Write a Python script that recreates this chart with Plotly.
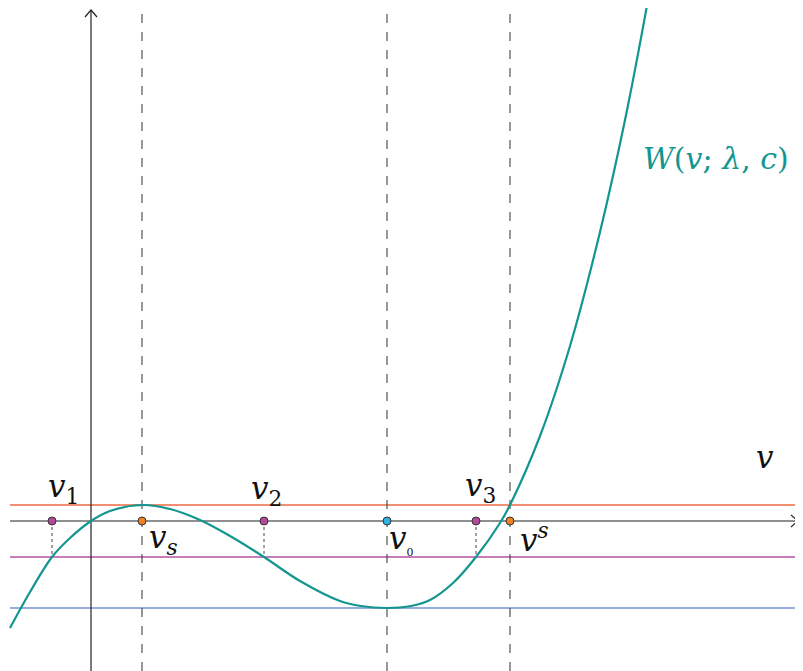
import plotly.graph_objects as go

# ---- data (units: 1 = 100 px of the reference) ----
curve_v = [-0.81, -0.61, -0.39, -0.21, 0.00, 0.19, 0.51, 0.79, 1.09, 1.39, 1.73,
           2.09, 2.49, 2.70, 2.96, 3.20, 3.39, 3.62, 3.85, 4.09, 4.19, 4.49, 4.79, 5.09, 5.34, 5.57, 5.62]
curve_W = [-1.07, -0.71, -0.36, -0.17, 0.00, 0.10, 0.16, 0.12, 0.01, -0.15, -0.36,
           -0.60, -0.80, -0.85, -0.87, -0.85, -0.79, -0.62, -0.36, -0.02, 0.16, 0.85, 1.75, 2.89, 4.01, 5.21, 5.50]

level_top = 0.16      # W(v_s)
level_mid = -0.36     # c level
level_min = -0.87     # W(v_0)

roots_v = [-0.39, 1.73, 3.85]           # v1, v2, v3
crit_v = [0.51, 4.19]                   # v_s, v^s
v0 = 2.96

# page has an 8px body margin: shift ranges so the picture lines up
XMIN, XMAX = -0.83, 7.20
YMIN, YMAX = -1.58, 5.13
LEFT = -0.81
RIGHT = 7.12

teal = "#13968f"
red = "#ec6a42"
mag = "#b452a4"
blue = "#7391cf"
purple_pt = "#b4489a"
orange_pt = "#f58220"
cyan_pt = "#2cb3e6"
dash_col = "#444444"

fig = go.Figure()

# horizontal levels
for lvl, col in [(level_top, red), (level_mid, mag), (level_min, blue)]:
    fig.add_trace(go.Scatter(x=[LEFT, RIGHT], y=[lvl, lvl], mode="lines",
                             line=dict(color=col, width=1.5), hoverinfo="skip"))

# vertical dashed lines
for xv in [crit_v[0], v0, crit_v[1]]:
    fig.add_trace(go.Scatter(x=[xv, xv], y=[-1.50, 5.12], mode="lines",
                             line=dict(color=dash_col, width=1.1, dash="dash"), hoverinfo="skip"))

# dotted drops from roots to c level
for xv in roots_v:
    fig.add_trace(go.Scatter(x=[xv, xv], y=[0, level_mid], mode="lines",
                             line=dict(color=dash_col, width=1, dash="dot"), hoverinfo="skip"))

# axes
fig.add_trace(go.Scatter(x=[LEFT, 7.07], y=[0, 0], mode="lines",
                         line=dict(color="#222222", width=1.2), hoverinfo="skip"))
fig.add_trace(go.Scatter(x=[7.00, 7.07, 7.00], y=[0.06, 0, -0.06], mode="lines",
                         line=dict(color="#222222", width=1.2), hoverinfo="skip"))
fig.add_trace(go.Scatter(x=[0, 0], y=[-1.50, 5.11], mode="lines",
                         line=dict(color="#222222", width=1.2), hoverinfo="skip"))
fig.add_trace(go.Scatter(x=[-0.06, 0, 0.06], y=[5.04, 5.11, 5.04], mode="lines",
                         line=dict(color="#222222", width=1.2), hoverinfo="skip"))

# curve
fig.add_trace(go.Scatter(x=curve_v, y=curve_W, mode="lines", line_shape="spline",
                         line=dict(color=teal, width=2.2), hoverinfo="skip"))

# points
fig.add_trace(go.Scatter(x=roots_v, y=[0, 0, 0], mode="markers",
                         marker=dict(color=purple_pt, size=8, line=dict(color="#333333", width=1))))
fig.add_trace(go.Scatter(x=crit_v, y=[0, 0], mode="markers",
                         marker=dict(color=orange_pt, size=8, line=dict(color="#333333", width=1))))
fig.add_trace(go.Scatter(x=[v0], y=[0], mode="markers",
                         marker=dict(color=cyan_pt, size=8, line=dict(color="#333333", width=1))))

serif = "DejaVu Serif"
labels = [
    (roots_v[0] + 0.11, 0.33, "<i>v</i><sub>1</sub>"),
    (roots_v[1] + 0.02, 0.31, "<i>v</i><sub>2</sub>"),
    (roots_v[2] + 0.04, 0.34, "<i>v</i><sub>3</sub>"),
    (crit_v[0] + 0.21, -0.18, "<i>v<sub>s</sub></i>"),
    (v0 + 0.14, -0.18, "<i>v</i><sub><span style='font-size:11px'>0</span></sub>"),
    (crit_v[1] + 0.24, -0.17, "<i>v<sup>s</sup></i>"),
    (6.74, 0.64, "<i>v</i>"),
]
for x, y, t in labels:
    fig.add_annotation(x=x, y=y, text=t, showarrow=False,
                       font=dict(family=serif, size=31, color="#111111"))
fig.add_annotation(x=6.25, y=3.63, text="<i>W</i>(<i>v</i>; <i>λ</i>, <i>c</i>)", showarrow=False,
                   font=dict(family=serif, size=30, color=teal))

fig.update_layout(
    width=803, height=671, margin=dict(l=0, r=0, t=0, b=0),
    paper_bgcolor="white", plot_bgcolor="white", showlegend=False,
    xaxis=dict(range=[XMIN, XMAX], visible=False, fixedrange=True),
    yaxis=dict(range=[YMIN, YMAX], visible=False, fixedrange=True),
)
fig.write_html("out.html")
